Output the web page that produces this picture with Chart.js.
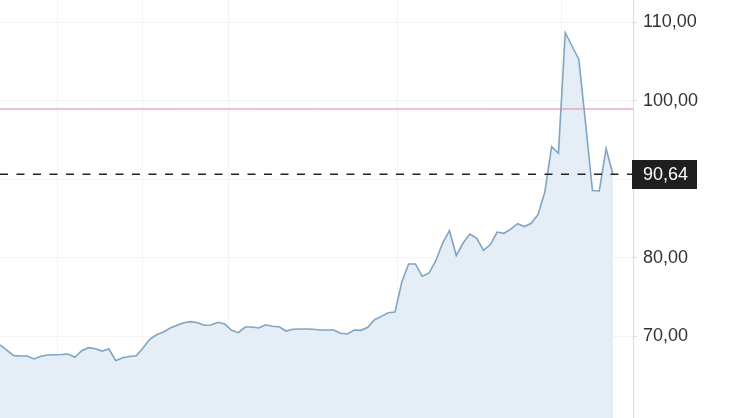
<!DOCTYPE html>
<html>
<head>
<meta charset="utf-8">
<script src="https://cdn.jsdelivr.net/npm/chart.js@4.4.0/dist/chart.umd.min.js"></script>
<style>
  html, body { margin: 0; padding: 0; background: #ffffff; }
  #wrap { width: 747px; height: 418px; position: relative; }
</style>
</head>
<body>
<div id="wrap"><canvas id="c"></canvas></div>
<script>
// ---- data ----
const prices = [68.88, 68.24, 67.52, 67.48, 67.48, 67.10, 67.44, 67.60, 67.64, 67.67,
  67.73, 67.31, 68.15, 68.54, 68.41, 68.11, 68.37, 66.88, 67.26, 67.41,
  67.52, 68.50, 69.64, 70.19, 70.54, 71.04, 71.39, 71.72, 71.85, 71.72,
  71.39, 71.43, 71.77, 71.55, 70.75, 70.45, 71.17, 71.17, 71.04, 71.46,
  71.26, 71.21, 70.66, 70.88, 70.92, 70.92, 70.88, 70.79, 70.79, 70.79,
  70.37, 70.28, 70.79, 70.75, 71.13, 72.10, 72.53, 72.99, 73.08, 76.90,
  79.20, 79.20, 77.63, 78.05, 79.62, 81.87, 83.44, 80.28, 81.87, 83.02,
  82.48, 80.94, 81.68, 83.27, 83.11, 83.63, 84.33, 83.97, 84.39, 85.48,
  88.37, 94.14, 93.30, 108.66, 106.97, 105.25, 97.00, 88.56, 88.50, 93.89, 90.64];
const lastPrice = 90.64;
const refLevel = 98.95;
const yTicks = [70, 80, 90, 100, 110];
const xGridDays = [8.4, 20.9, 33.5, 58.4, 82.5];
const xMin = 0, xMax = 92.95;
const yMin = 59.58, yMax = 112.83;

const fmt = v => v.toFixed(2).replace('.', ',');
const series = prices.map((v, i) => ({ x: i, y: v }));
const lastLine = [{ x: xMin, y: lastPrice }, { x: xMax, y: lastPrice }];
const refLine = [{ x: xMin, y: refLevel }, { x: xMax, y: refLevel }];

const FONT = '"Liberation Sans", Arial, sans-serif';

const lastLabel = {
  id: 'lastLabel',
  afterDraw(chart) {
    const ctx = chart.ctx;
    const y = chart.scales.y.getPixelForValue(lastPrice);
    const x0 = chart.chartArea.right - 1;
    ctx.save();
    ctx.fillStyle = '#1f1f1f';
    ctx.fillRect(x0, Math.round(y - 14), 65, 29);
    ctx.fillStyle = '#ffffff';
    ctx.font = '18px ' + FONT;
    ctx.textBaseline = 'middle';
    ctx.textAlign = 'left';
    ctx.fillText(fmt(lastPrice), x0 + 11, y + 1);
    ctx.restore();
  }
};

new Chart(document.getElementById('c'), {
  type: 'line',
  data: {
    datasets: [
      { data: lastLine, borderColor: '#222222', borderWidth: 1.6, borderDash: [8, 8.5],
        pointRadius: 0, fill: false },
      { data: refLine, borderColor: '#d98a92', borderWidth: 1,
        pointRadius: 0, fill: false },
      { data: series, borderColor: '#7fa5c4', borderWidth: 1.6,
        backgroundColor: '#e5edf6', fill: 'start', pointRadius: 0, tension: 0 }
    ]
  },
  options: {
    responsive: true,
    maintainAspectRatio: false,
    animation: false,
    layout: { padding: 0 },
    plugins: { legend: { display: false }, tooltip: { enabled: false } },
    scales: {
      x: {
        type: 'linear', min: xMin, max: xMax,
        afterBuildTicks: s => { s.ticks = xGridDays.map(v => ({ value: v })); },
        afterFit: s => { s.height = 0; s.paddingLeft = 0; s.paddingRight = 0; },
        ticks: { display: false },
        grid: { color: 'rgba(0,0,0,0.045)', drawTicks: false },
        border: { display: false }
      },
      y: {
        position: 'right', min: yMin, max: yMax,
        afterBuildTicks: s => { s.ticks = yTicks.map(v => ({ value: v })); },
        afterFit: s => { s.width = 114; s.paddingTop = 0; s.paddingBottom = 0; },
        ticks: { color: '#333333', font: { size: 18, family: FONT }, padding: 6,
                 callback: v => fmt(v) },
        grid: { color: 'rgba(0,0,0,0.045)', tickColor: '#dddddd', tickLength: 4 },
        border: { display: true, color: '#dcdcdc' }
      }
    }
  },
  plugins: [lastLabel]
});
</script>
</body>
</html>
